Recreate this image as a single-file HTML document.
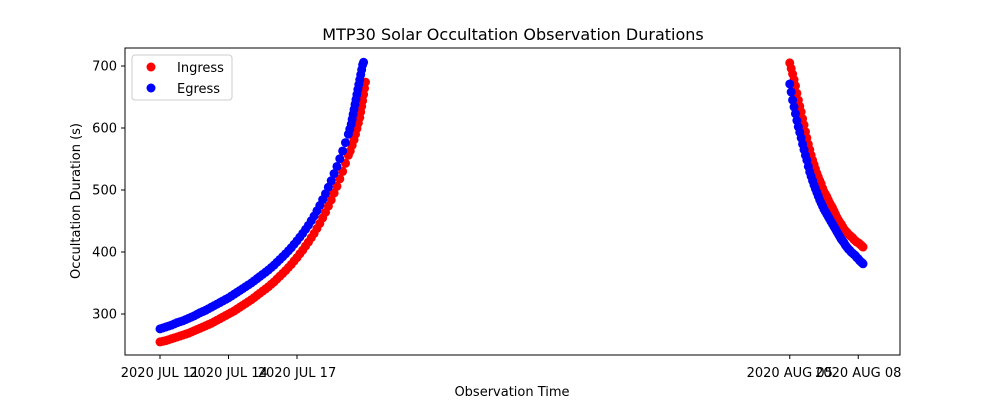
<!DOCTYPE html>
<html><head><meta charset="utf-8"><style>
body{margin:0;background:#fff;font-family:"Liberation Sans","DejaVu Sans",sans-serif}
svg text{font-family:"DejaVu Sans","Liberation Sans",sans-serif}
</style></head><body>
<svg id="chart" width="1000" height="400" viewBox="0 0 1000 400" xmlns="http://www.w3.org/2000/svg">
<rect width="1000" height="400" fill="#fff"/>
<text x="513" y="40" font-size="16" text-anchor="middle">MTP30 Solar Occultation Observation Durations</text>
<g id="marks"></g>
<rect x="125" y="48" width="775" height="307" fill="none" stroke="#000" stroke-width="1"/>
<g id="axes"></g>
<text x="512" y="396" font-size="13" text-anchor="middle">Observation Time</text>
<text x="80" y="201" font-size="13" text-anchor="middle" transform="rotate(-90 80 201)">Occultation Duration (s)</text>
<g>
<rect x="132" y="55" width="100" height="45" rx="3" fill="#fff" stroke="#ccc"/>
<circle cx="151" cy="67" r="4.5" fill="red"/>
<text x="177" y="72" font-size="13">Ingress</text>
<circle cx="151" cy="88" r="4.5" fill="blue"/>
<text x="177" y="93" font-size="13">Egress</text>
</g>
</svg>
<script>
const ingress1Hours=[0,3,6,9,12,15,18,21,24,27,30,33,36,39,42,45,48,51,54,57,60,63,66,69,72,75,78,81,84,87,90,93,96,99,102,105,108,111,114,117,120,123,126,129,132,135,138,141,144,147,150,153,156,159,162,165,168,171,174,177,180,183,186,189,192,195,198,
200,202,204,205.5,207,208.5,210,211,212,213,214,215,216];
const ingress1Values=[255,256,257,258.5,260,261.5,263,264.5,266,267.5,269,271,273,275,277,279,281,283,285,287.5,290,292.5,295,297.5,300,302.5,305,308,311,314,317,320,323,326.5,330,333.5,337,340.5,344,348,352,356.5,361,365.5,370,375,380,385.5,391,397,403,409.5,416,423,430,438,446,455,464,474,484,495,506,518,530,543,556,
563,572,581,590,599,608,617,626,635,644,654,664,674];
const egress1Hours=[0,3,6,9,12,15,18,21,24,27,30,33,36,39,42,45,48,51,54,57,60,63,66,69,72,75,78,81,84,87,90,93,96,99,102,105,108,111,114,117,120,123,126,129,132,135,138,141,144,147,150,153,156,159,162,165,168,171,174,177,180,183,186,189,192,195,198,
199.5,201,202,203,204,205,206,207,208,209,210,211,212,213,214];
const egress1Values=[276,277.5,279,280.5,282,284,286,287.5,289,291,293,295,297,299.5,302,304,306,308.5,311,313.5,316,318.5,321,323.5,326,329,332,335,338,341,344,347,350,353.5,357,360.5,364,367.5,371,375,379,383.5,388,392.5,397,402,407,412.5,418,424,430,436.5,443,450.5,458,466.5,475,484.5,494,504.5,515,526.5,538,550.5,563,576.5,590,
598,606,614,622,630,638,646,654,662,670,678,686,694,702,706];
const cluster2Hours=[662,663.5,665,666.5,668,669.5,671,672.5,674,675.5,677,678.5,680,681.5,683,684.5,686,
687.5,689,690.5,692,693.5,695,696.5,698,699.5,701,702.5,704,705.5,707,708.5,710,711.5,713,714.5,716,717.5,719,720.5,722,723.5,725,726.5,728,729.5,731,732.5,734,735.5,737,738,739];
const ingress2Values=[705,696,687,678,668,656,645,635,626,615,605,594,584,574,565,556,548,
541,534,527,521,515,510,503,497,493,489,484,479,475,471,466,461,456,452,448,445,441,437,434,432,429,427,425,423,420,418,416,415,413,411,409.5,408];
const egress2Values=[671,658,645,634,623,612,602,593,584,574,565,556,548,538,529,522,515,
508,502,496,490,484,479,474,469,465,461,457,453,449,445,441,437,433,429,425,421,418,415,411,408,405,403,400,398,396,394,391,389,386,384,382.5,381];
const xTickHours=[0,72,144,662,734];
const xTickLabels=["2020 JUL 11","2020 JUL 14","2020 JUL 17","2020 AUG 05","2020 AUG 08"];
const yTicks=[300,400,500,600,700];

const X=h=>160+h*0.9513;
const Y=v=>314-(v-300)*0.62;
const NS="http://www.w3.org/2000/svg";
const marks=document.getElementById('marks');
const axes=document.getElementById('axes');
function dots(hs,vs,color,name){
  for(let i=0;i<hs.length;i++){
    const c=document.createElementNS(NS,'circle');
    c.setAttribute('cx',X(hs[i]));c.setAttribute('cy',Y(vs[i]));c.setAttribute('r',4.5);c.setAttribute('fill',color);
    
    
    marks.appendChild(c);
  }
}
dots(ingress1Hours,ingress1Values,'red','ingress-point');
dots(cluster2Hours,ingress2Values,'red','ingress-point');
dots(egress1Hours,egress1Values,'blue','egress-point');
dots(cluster2Hours,egress2Values,'blue','egress-point');
xTickHours.forEach((h,i)=>{
  const l=document.createElementNS(NS,'line');
  l.setAttribute('x1',X(h));l.setAttribute('x2',X(h));l.setAttribute('y1',355);l.setAttribute('y2',359);l.setAttribute('stroke','#000');
  
  
  axes.appendChild(l);
  const t=document.createElementNS(NS,'text');
  t.setAttribute('x',X(h));t.setAttribute('y',377);t.setAttribute('font-size','13');t.setAttribute('text-anchor','middle');
  t.textContent=xTickLabels[i];
  
  
  axes.appendChild(t);
});
yTicks.forEach(v=>{
  const l=document.createElementNS(NS,'line');
  l.setAttribute('x1',121);l.setAttribute('x2',125);l.setAttribute('y1',Y(v));l.setAttribute('y2',Y(v));l.setAttribute('stroke','#000');
  
  
  axes.appendChild(l);
  const t=document.createElementNS(NS,'text');
  t.setAttribute('x',117);t.setAttribute('y',Y(v)+4.5);t.setAttribute('font-size','13');t.setAttribute('text-anchor','end');
  t.textContent=v;
  
  
  axes.appendChild(t);
});
</script>
</body></html>
